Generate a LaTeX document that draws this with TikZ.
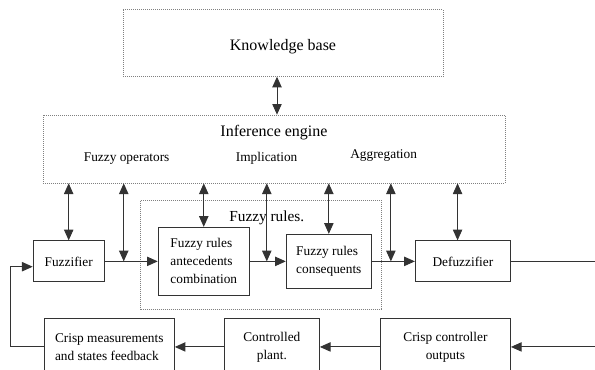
\documentclass[tikz,border=0pt]{standalone}
\usepackage{fontspec}
\setmainfont{Liberation Serif}
\usetikzlibrary{arrows.meta,positioning,fit}
\tikzset{
  bloque/.style={rectangle,draw=black!80,line width=0.8pt,minimum width=53.25pt,
    minimum height=30.75pt,align=center,inner sep=2pt},
  grupo/.style={rectangle,draw=black!50,densely dotted,line width=0.5pt},
  flujo/.style={-{Triangle[length=8pt,width=7pt]},line width=0.7pt,draw=black!80},
  doble/.style={{Triangle[length=8pt,width=7pt]}-{Triangle[length=8pt,width=7pt]},
    line width=0.7pt,draw=black!80},
  etiqueta/.style={font=\fontsize{10}{12}\selectfont,inner sep=1pt},
  titulo/.style={font=\fontsize{12}{14}\selectfont,inner sep=1pt}
}
\begin{document}
\begin{tikzpicture}[font=\fontsize{10}{13.5}\selectfont]
\useasboundingbox (-205.5pt,111.75pt) rectangle (240.75pt,-165pt);
\clip (-205.5pt,111.75pt) rectangle (240.75pt,-165pt);
\node[grupo,minimum width=346.5pt,minimum height=51pt] (motor) at (0,0) {};
\node[grupo,minimum width=240pt,minimum height=50.25pt,above=28.5pt of motor,xshift=6.75pt] (base) {};
\node[titulo,below=28.5pt of base.north,anchor=center] (basetit) {Knowledge base};
\node[titulo,below=13.5pt of motor.north,anchor=center] (motortit) {Inference engine};
\node[etiqueta,below right=33pt and 63pt of motor.north west,anchor=center] (oper) {Fuzzy operators};
\node[etiqueta,below right=33pt and 168pt of motor.north west,anchor=center] (impl) {Implication};
\node[etiqueta,below right=30.75pt and 255.75pt of motor.north west,anchor=center] (agreg) {Aggregation};
\node[bloque,below=42.75pt of motor.south west,anchor=north west,xshift=-7.5pt] (fuzz) {Fuzzifier};
\node[bloque,right=39.75pt of fuzz,minimum width=68.25pt,minimum height=51pt,align=left] (antec) {Fuzzy rules\\antecedents\\combination};
\node[bloque,right=27pt of antec,minimum width=63.75pt,minimum height=40.5pt,align=left] (consec) {Fuzzy rules\\consequents};
\node[bloque,right=32.25pt of consec,minimum width=71.25pt] (defuzz) {Defuzzifier};
\node[bloque,below=27pt of defuzz.south east,anchor=north east,minimum width=97.5pt,minimum height=42pt] (salida) {Crisp controller\\outputs};
\node[bloque,left=45pt of salida,minimum width=71.25pt,minimum height=42pt] (planta) {Controlled\\plant.};
\node[bloque,left=36.75pt of planta,minimum width=97.5pt,minimum height=42pt,align=left] (medida) {Crisp measurements\\and states feedback};
\path (antec.north west) ++(-12.75pt,20.25pt) coordinate (g1);
\path (antec.south -| consec.east) ++(6.75pt,-9.75pt) coordinate (g2);
\node[grupo,fit=(g1)(g2),inner sep=0pt] (reglas) {};
\node[below=13.5pt of reglas.north,anchor=center,xshift=4.5pt,inner sep=1pt,font=\fontsize{11.5}{13}\selectfont] (reglastit) {Fuzzy rules.};
\coordinate[left=4.5pt of base.south] (bp);
\coordinate[right=14.25pt of fuzz.east] (j1);
\coordinate[right=12.75pt of antec.east] (j2);
\coordinate[right=14.25pt of consec.east] (j3);
\coordinate[left=4pt of defuzz.north] (dn);
\coordinate[right=75pt of defuzz.east] (vuelta);
\coordinate[left=24.75pt of medida.west] (retro);
\coordinate[below=4pt of fuzz.west] (fw);
\draw[doble] (bp) -- (bp |- motor.north);
\draw[doble] (fuzz.north) -- (fuzz.north |- motor.south);
\draw[doble] (j1) -- (j1 |- motor.south);
\draw[doble] (antec.north) -- (antec.north |- motor.south);
\draw[doble] (j2) -- (j2 |- motor.south);
\draw[doble] (consec.north) -- (consec.north |- motor.south);
\draw[doble] (j3) -- (j3 |- motor.south);
\draw[doble] (dn) -- (dn |- motor.south);
\draw[flujo] (fuzz) -- (antec);
\draw[flujo] (antec) -- (consec);
\draw[flujo] (consec) -- (defuzz);
\draw[flujo] (defuzz.east) -- (vuelta) |- (salida.east);
\draw[flujo] (salida) -- (planta);
\draw[flujo] (planta) -- (medida);
\draw[flujo] (medida.west) -- (retro) |- (fw);
\end{tikzpicture}
\end{document}
